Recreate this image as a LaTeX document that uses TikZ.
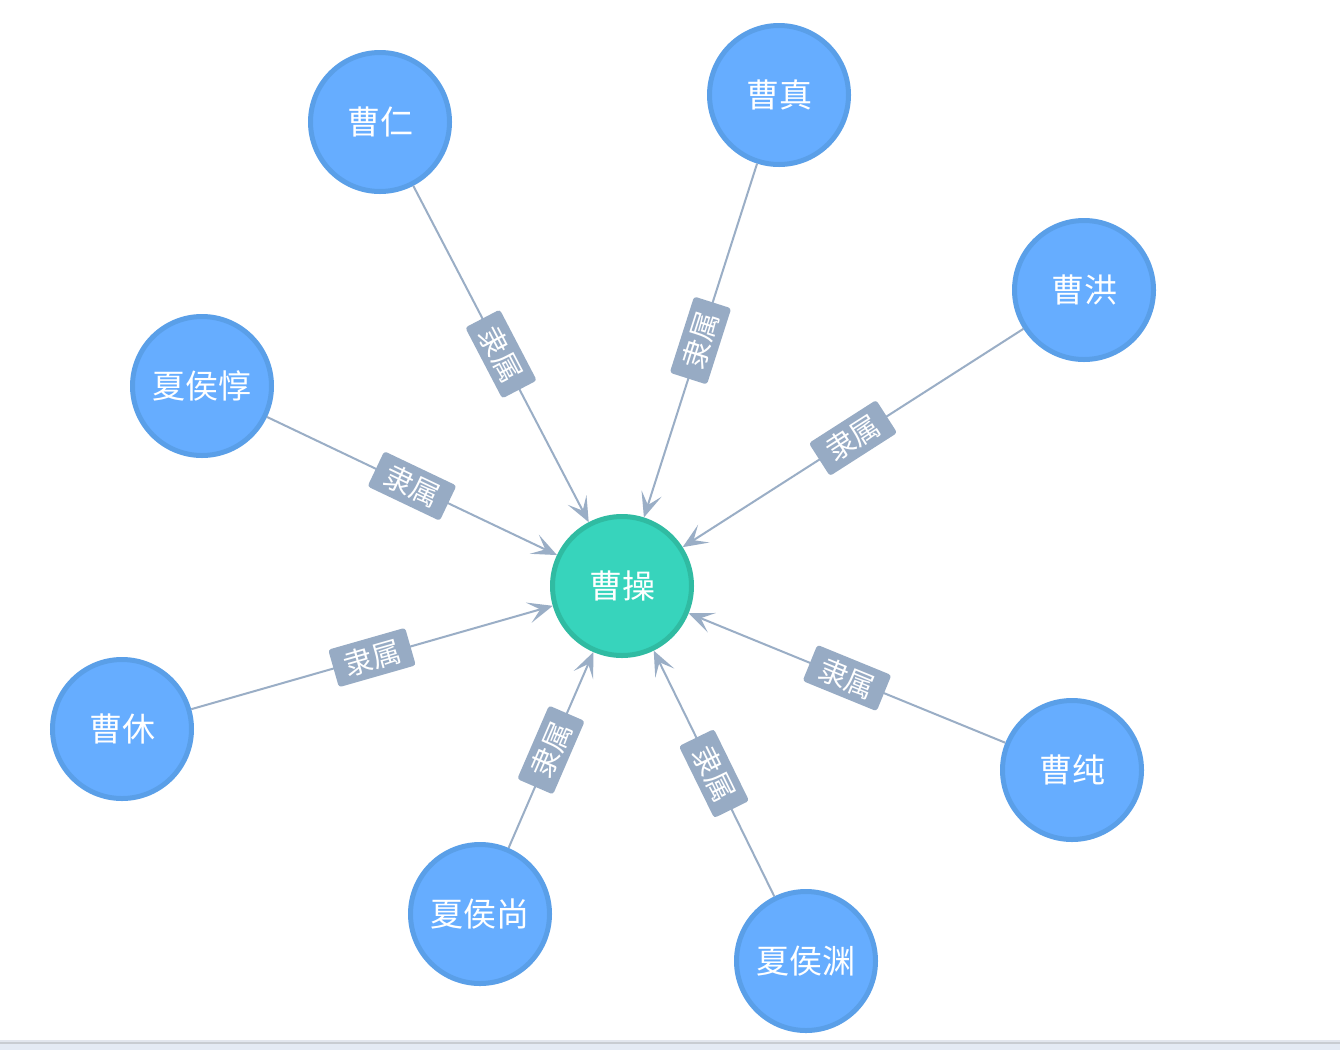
\documentclass[tikz,border=0pt]{standalone}
\usepackage{fontspec}
\newfontfamily\cjk{Noto Sans CJK SC}
\usetikzlibrary{arrows.meta}
\definecolor{nblue}{HTML}{66ADFF}
\definecolor{nblueb}{HTML}{5A9FE8}
\definecolor{nteal}{HTML}{37D4BC}
\definecolor{ntealb}{HTML}{30BBA2}
\definecolor{edgec}{HTML}{9AAEC6}
\definecolor{lblc}{HTML}{97ABC4}
\definecolor{bandA}{HTML}{E2E6EE}
\definecolor{bandB}{HTML}{C8CCD2}
\definecolor{bandC}{HTML}{E4EAF4}
\begin{document}
\begin{tikzpicture}[x=1pt,y=-1pt,
  person/.style={circle, draw=nblueb, fill=nblue, line width=5pt, minimum size=139pt, inner sep=0pt,
    text=white, font=\cjk\fontsize{33}{38}\selectfont},
  boss/.style={person, draw=ntealb, fill=nteal},
  rel/.style={draw=edgec, line width=2pt, -{Stealth[length=25pt,width=21pt,inset=12pt]}},
  lbl/.style={fill=lblc, text=white, rounded corners=3pt, inner sep=0pt,
    minimum width=80pt, minimum height=39pt,
    font=\cjk\fontsize{29}{32}\selectfont, midway, sloped}
]
\useasboundingbox (0,0) rectangle (1340,1050);
\fill[white] (0,0) rectangle (1340,1050);
\fill[bandA] (0,1040) rectangle (1340,1042);
\fill[bandB] (0,1042) rectangle (1340,1044);
\fill[bandC] (0,1044) rectangle (1340,1050);

\node[boss] (cc) at (622,586) {曹操};
\node[person] (cr) at (380,122) {曹仁};
\node[person] (cz) at (779,95) {曹真};
\node[person] (ch) at (1084,290) {曹洪};
\node[person] (xhd) at (202,386) {夏侯惇};
\node[person] (cx) at (122,729) {曹休};
\node[person] (xhs) at (480,914) {夏侯尚};
\node[person] (xhy) at (806,961) {夏侯渊};
\node[person] (ccn) at (1072,770) {曹纯};

\foreach \s in {cr,cz,ch,xhd,cx,xhs,xhy,ccn}{
  \draw[rel] (\s) -- node[lbl] {隶属} (cc);
}
\end{tikzpicture}
\end{document}
